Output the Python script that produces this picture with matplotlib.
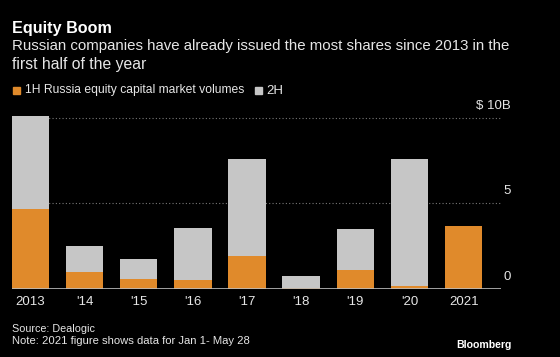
import matplotlib
matplotlib.use("Agg")
import matplotlib.pyplot as plt
from matplotlib.patches import Rectangle

YEARS = ["2013", "'14", "'15", "'16", "'17", "'18", "'19", "'20", "2021"]
FIRST_HALF = [4.64, 0.98, 0.57, 0.49, 1.93, 0.05, 1.08, 0.18, 3.67]
TOTAL = [10.1, 2.48, 1.75, 3.57, 7.57, 0.76, 3.47, 7.57, 3.67]
SECOND_HALF = [t - f for t, f in zip(TOTAL, FIRST_HALF)]
Y_TICKS = [0, 5, 10]
Y_LABELS = ["0", "5", "$ 10B"]

ORANGE = "#E08A2B"
GREY = "#C6C6C6"
TEXT = "#E6E6E6"
BG = "black"

plt.rcParams["font.family"] = ["Liberation Sans", "DejaVu Sans"]

W, H = 560, 357
fig = plt.figure(figsize=(W / 100, H / 100), dpi=100, facecolor=BG)
renderer = fig.canvas.get_renderer()


def fit_text(x, y, s, width, size, **kw):
    """place text at pixel coords (from top-left), scaled to a target pixel width"""
    t = fig.text(x / W, 1 - y / H, s, fontsize=size, **kw)
    w = t.get_window_extent(renderer).width
    t.set_fontsize(size * width / w)
    return t


# axes placed in pixel terms
x0, x1 = 11.7, 501
y_zero, px_per_unit = 288.7, 17.1
ymax = 10.5
ax = fig.add_axes([x0 / W, (H - y_zero) / H, (x1 - x0) / W, ymax * px_per_unit / H])
ax.set_facecolor(BG)

xs = range(len(YEARS))
bw = 0.69
ax.bar(xs, FIRST_HALF, width=bw, color=ORANGE, zorder=3)
ax.bar(xs, SECOND_HALF, width=bw, bottom=FIRST_HALF, color=GREY, zorder=3)

ax.set_xlim(-bw / 2, 8.69)
ax.set_ylim(0, ymax)
for s in ax.spines.values():
    s.set_visible(False)
ax.axhline(0, color="#BDBDBD", lw=1.2, zorder=4)
for t in Y_TICKS[1:]:
    ax.axhline(t, color="#777777", lw=0.8, ls=(0, (1, 2)), zorder=1)

ax.set_yticks([])
ax.set_xticks(list(xs))
ax.set_xticklabels(YEARS, color=TEXT, fontsize=9.5)
ax.tick_params(axis="x", length=0, pad=5)

# y labels sit above their gridlines, right aligned outside axes
for t, lab in zip(Y_TICKS, Y_LABELS):
    fig.text(511 / W, (H - (y_zero - t * px_per_unit) + 6) / H, lab,
             color=TEXT, fontsize=9.5, ha="right", va="bottom")

fit_text(12, 28, "Equity Boom", 99, 12, color="white", fontweight="bold", va="center")
fit_text(12, 46, "Russian companies have already issued the most shares since 2013 in the",
         497, 11, color=TEXT, va="center")
fit_text(12, 64, "first half of the year", 134, 11, color=TEXT, va="center")

# legend
fig.patches.append(Rectangle((13 / W, 1 - 94 / H), 7 / W, 7 / H, color=ORANGE,
                             transform=fig.transFigure))
fit_text(25, 90.5, "1H Russia equity capital market volumes", 219, 9.5, color=TEXT, va="center")
fig.patches.append(Rectangle((255 / W, 1 - 94 / H), 7 / W, 7 / H, color=GREY,
                             transform=fig.transFigure))
fig.text(266 / W, 1 - 90.5 / H, "2H", color=TEXT, fontsize=9.5, va="center")

fit_text(12, 328.5, "Source: Dealogic", 82, 9.5, color=TEXT, va="center")
fit_text(12, 341.5, "Note: 2021 figure shows data for Jan 1- May 28", 238, 9.5,
         color=TEXT, va="center")
b = fit_text(456, 345, "Bloomberg", 55, 9.5, color="white", fontweight="bold", va="center")

fig.savefig("out.png", dpi=100, facecolor=BG)
